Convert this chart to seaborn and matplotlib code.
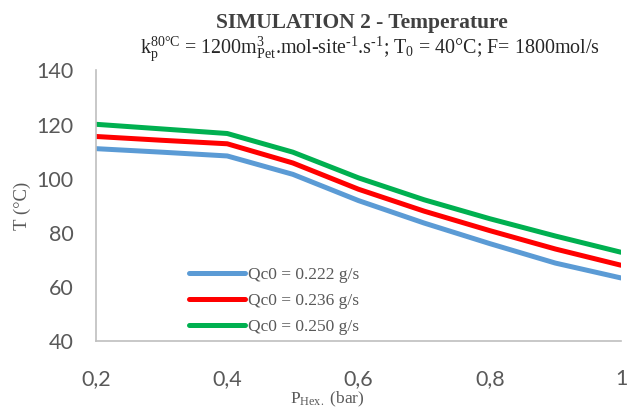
import matplotlib
matplotlib.use("Agg")
import matplotlib.pyplot as plt
import seaborn as sns
import pandas as pd

p_hex = [0.2, 0.3, 0.4, 0.5, 0.6, 0.7, 0.8, 0.9, 1.0]
t_222 = [111.1, 109.8, 108.4, 101.6, 91.9, 83.6, 76.0, 68.8, 63.3]
t_236 = [115.6, 114.2, 112.9, 105.8, 96.1, 88.0, 80.8, 74.0, 68.0]
t_250 = [120.1, 118.4, 116.7, 109.8, 100.3, 92.2, 85.2, 78.8, 72.8]
series_labels = ["Qc0 = 0.222 g/s", "Qc0 = 0.236 g/s", "Qc0 = 0.250 g/s"]
colors = ["#5B9BD5", "#FF0000", "#00B050"]
x_ticks = [0.2, 0.4, 0.6, 0.8, 1.0]
x_tick_labels = ["0,2", "0,4", "0,6", "0,8", "1"]
y_ticks = [40, 60, 80, 100, 120, 140]

rows = []
for lab, vals in zip(series_labels, [t_222, t_236, t_250]):
    for x, y in zip(p_hex, vals):
        rows.append({"P": x, "T": y, "series": lab})
df = pd.DataFrame(rows)

sns.set_style("white")
plt.rcParams["mathtext.fontset"] = "custom"
plt.rcParams["mathtext.rm"] = "Liberation Serif"
plt.rcParams["mathtext.it"] = "Liberation Serif:italic"
plt.rcParams["mathtext.bf"] = "Liberation Serif:bold"

fig = plt.figure(figsize=(6.34, 4.17), dpi=100)
ax = fig.add_axes([0.1514, 0.1823, 0.8281, 0.6487])

sns.lineplot(data=df, x="P", y="T", hue="series", palette=colors,
             hue_order=series_labels, linewidth=3.6, sort=False, ax=ax,
             solid_capstyle="round", legend=True)

ax.set_xlim(0.2, 1.0)
ax.set_ylim(40, 140)
ax.set_xticks(x_ticks)
ax.set_xticklabels(x_tick_labels)
ax.set_yticks(y_ticks)
ax.tick_params(axis="both", length=0, labelsize=15.5, labelcolor="#595959")
ax.tick_params(axis="y", pad=16)
ax.tick_params(axis="x", pad=20)
for lab in ax.get_xticklabels() + ax.get_yticklabels():
    lab.set_family("Lato")
for s in ["top", "right"]:
    ax.spines[s].set_visible(False)
for s in ["left", "bottom"]:
    ax.spines[s].set_color("#BFBFBF")
    ax.spines[s].set_linewidth(1.2)

ax.set_ylabel("T (°C)", family="Liberation Serif", fontsize=13.5, color="#595959", labelpad=4)
ax.set_xlabel(r"P$_{\mathrm{Hex.}}$ (bar)", family="Liberation Serif", fontsize=12.5,
              color="#595959", labelpad=4)
ax.xaxis.set_label_coords(0.44, -0.18)

leg = ax.legend(loc="lower left", bbox_to_anchor=(0.163, -0.005), frameon=False,
                prop={"family": "Liberation Serif", "size": 12.5},
                handlelength=3.25, handletextpad=0.15, labelspacing=0.57, borderaxespad=0.0)
for t in leg.get_texts():
    t.set_color("#595959")
for h in leg.get_lines():
    h.set_linewidth(3.6)

fig.text(0.571, 0.945, "SIMULATION 2 - Temperature", ha="center", va="center",
         family="Liberation Serif", fontweight="bold", fontsize=15.5, color="#404040")
fig.text(0.583, 0.884,
         r"$\text{k}_\text{p}^\text{80°C}\text{ = 1200m}^\text{3}_\text{Pet}\text{.mol-site}^\text{-1}"
         r"\text{.s}^\text{-1}\text{; T}_\text{0}\text{ = 40°C; F= 1800mol/s}$",
         ha="center", va="center", fontsize=14.4, color="#262626")

fig.savefig("out.png", dpi=100)
